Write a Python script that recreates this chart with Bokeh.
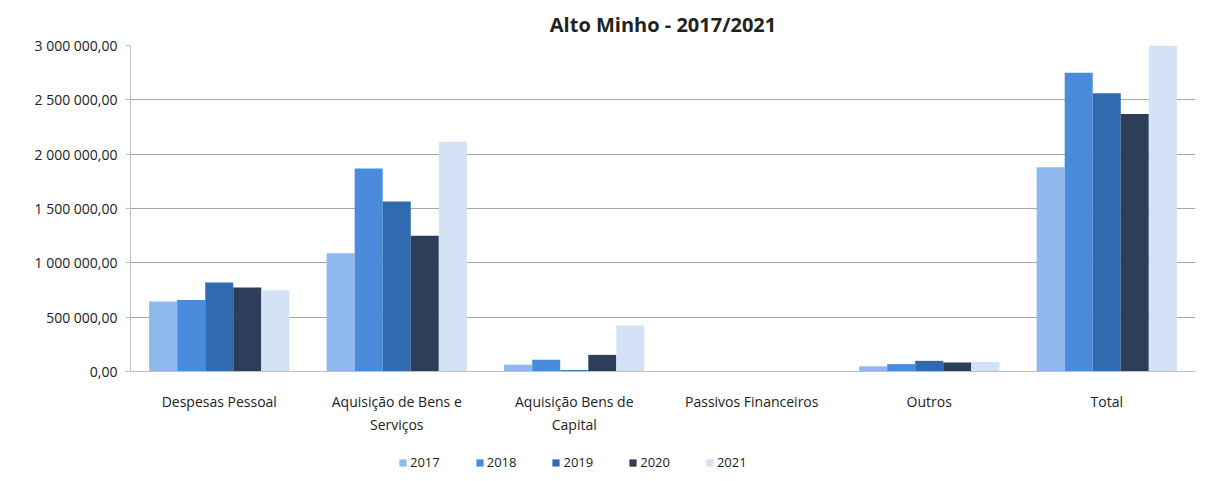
from bokeh.plotting import figure
from bokeh.models import ColumnDataSource, FactorRange, Range1d, Legend, LegendItem, CustomJSTickFormatter, SingleIntervalTicker
from bokeh.transform import dodge
from bokeh.embed import file_html
from bokeh.resources import INLINE

categories = ["Despesas Pessoal", "Aquisição de Bens e\nServiços", "Aquisição Bens de\nCapital",
              "Passivos Financeiros", "Outros", "Total"]
years = ["2017", "2018", "2019", "2020", "2021"]
v2017 = [645000, 1090000, 65000, 0, 50000, 1880000]
v2018 = [660000, 1870000, 110000, 0, 70000, 2750000]
v2019 = [820000, 1565000, 15000, 0, 100000, 2560000]
v2020 = [775000, 1250000, 155000, 0, 85000, 2370000]
v2021 = [750000, 2115000, 425000, 0, 90000, 3380000]
colors = ["#8FB8EE", "#4A8BDB", "#2F6BAE", "#2C3E5A", "#D4E2F5"]
title_text = "Alto Minho - 2017/2021"
y_max = 3000000

source = ColumnDataSource(data=dict(cat=categories, y2017=v2017, y2018=v2018, y2019=v2019,
                                    y2020=v2020, y2021=v2021))

# frame extends below the zero line to leave room for the category labels and the legend
p = figure(width=1196, height=473, output_backend="svg", toolbar_location=None,
           x_range=FactorRange(*categories, range_padding=0), y_range=Range1d(-936000, y_max),
           min_border_left=130, min_border_right=1, min_border_top=44, min_border_bottom=0,
           title=title_text, x_axis_location=None)
p.title.align = "center"
p.title.text_font = "Open Sans"
p.title.text_font_size = "20px"
p.title.text_font_style = "bold"
p.title.text_color = "#222222"
p.title.offset = 0
p.title.standoff = 16
p.outline_line_color = None

bw = 0.158
offsets = [-2 * bw, -bw, 0, bw, 2 * bw]
renderers = []
for yr, off, col in zip(years, offsets, colors):
    r = p.vbar(x=dodge("cat", off, range=p.x_range), top="y" + yr, width=bw, source=source,
               fill_color=col, line_color=None)
    renderers.append(r)

from bokeh.models import CategoricalAxis
xaxis = CategoricalAxis(fixed_location=0)
xaxis.major_label_text_font = "Open Sans"
xaxis.major_label_text_font_size = "14px"
xaxis.major_label_text_color = "#222222"
xaxis.axis_line_color = "#BFBFBF"
xaxis.major_tick_line_color = None
xaxis.major_label_standoff = 14
p.add_layout(xaxis, "below")

legend = Legend(items=[LegendItem(label=yr, renderers=[r]) for yr, r in zip(years, renderers)],
                orientation="horizontal", location=(268, 2), border_line_color=None,
                background_fill_alpha=0, glyph_width=9, glyph_height=9, spacing=35,
                label_text_font="Open Sans", label_text_font_size="13px", label_text_color="#222222",
                label_standoff=3, padding=0, margin=0)
p.add_layout(legend, "center")

p.yaxis.ticker = SingleIntervalTicker(interval=500000)
p.yaxis.bounds = (0, y_max)
p.yaxis.formatter = CustomJSTickFormatter(code="""
const s = tick.toFixed(2).split('.');
return s[0].replace(/\\B(?=(\\d{3})+(?!\\d))/g, ' ') + ',' + s[1];
""")
p.yaxis.major_label_text_font = "Open Sans"
p.yaxis.major_label_text_font_size = "14px"
p.yaxis.major_label_text_color = "#222222"
p.yaxis.axis_line_color = "#BFBFBF"
p.yaxis.major_tick_line_color = "#BFBFBF"
p.yaxis.major_tick_out = 5
p.yaxis.major_tick_in = 0
p.yaxis.minor_tick_line_color = None
p.yaxis.major_label_standoff = 8

p.xgrid.grid_line_color = None
p.ygrid.grid_line_color = "#A6A6A6"
p.ygrid.grid_line_width = 1
p.ygrid.bounds = (0, y_max)

open("out.html", "w").write(file_html(p, INLINE))
